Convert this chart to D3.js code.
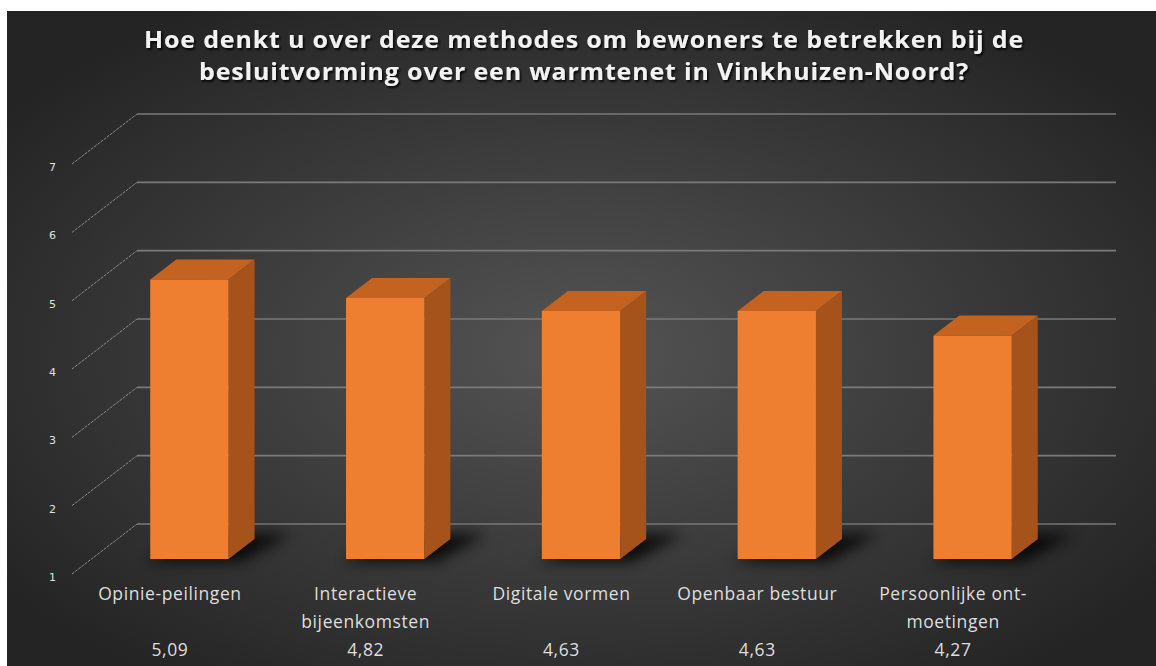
<!DOCTYPE html>
<html>
<head>
<meta charset="utf-8">
<script src="https://cdn.jsdelivr.net/npm/d3@7"></script>
<style>
	body { margin: 0; background: #fff; }
	svg { display: block; }
</style>
</head>
<body>
<div id="chart-area"></div>
<script>
// Data
var titleLines = [
	"Hoe denkt u over deze methodes om bewoners te betrekken bij de",
	"besluitvorming over een warmtenet in Vinkhuizen-Noord?"
];
var categories = [
	["Opinie-peilingen", ""],
	["Interactieve", "bijeenkomsten"],
	["Digitale vormen", ""],
	["Openbaar bestuur", ""],
	["Persoonlijke ont-", "moetingen"]
];
var values = [5.09, 4.82, 4.63, 4.63, 4.27];
var yTicks = [1, 2, 3, 4, 5, 6, 7];

var width = 1156;
var height = 666;

// front plane of the 3d box + offset to the back wall
var plot = { left: 72, right: 1051, bottom: 574, top: 164 };
var depth = { dx: 65, dy: -50 };
var barFront = 0.3, barBack = 0.7;

var formatValue = d3.format(".2f");
function fmt(v) { return formatValue(v).replace(".", ","); }

var svg = d3.select("#chart-area")
	.append("svg")
	.attr("width", width)
	.attr("height", height);

var defs = svg.append("defs");

var bg = defs.append("radialGradient")
	.attr("id", "bg")
	.attr("cx", "50%").attr("cy", "52%").attr("r", "62%");
bg.append("stop").attr("offset", "0%").attr("stop-color", "#545454");
bg.append("stop").attr("offset", "100%").attr("stop-color", "#242424");

defs.append("filter")
	.attr("id", "blur")
	.attr("x", "-50%").attr("y", "-50%").attr("width", "200%").attr("height", "200%")
	.append("feGaussianBlur")
	.attr("stdDeviation", 7);

defs.append("filter")
	.attr("id", "tshadow")
	.append("feDropShadow")
	.attr("dx", 1.5).attr("dy", 2)
	.attr("stdDeviation", 1.2)
	.attr("flood-color", "#000")
	.attr("flood-opacity", 0.9);

svg.append("rect")
	.attr("x", 7)
	.attr("y", 11)
	.attr("width", width - 7)
	.attr("height", height - 11)
	.attr("fill", "url(#bg)");

// Scales
var x = d3.scaleBand()
	.domain(d3.range(values.length))
	.range([plot.left, plot.right])
	.paddingInner(0.6)
	.paddingOuter(0.3);

var y = d3.scaleLinear()
	.domain([1, 7])
	.range([plot.bottom, plot.top]);

// Title
var title = svg.append("g")
	.attr("filter", "url(#tshadow)");
var titleWidths = [880, 770];
titleLines.forEach(function(line, i){
	title.append("text")
		.attr("x", 584)
		.attr("y", 48 + i * 32)
		.attr("text-anchor", "middle")
		.attr("font-family", "'Open Sans', sans-serif")
		.attr("font-weight", "bold")
		.attr("font-size", 23)
		.attr("fill", "#f2f2f2")
		.attr("letter-spacing", 0.8)
		.attr("textLength", titleWidths[i])
		.attr("lengthAdjust", "spacingAndGlyphs")
		.text(line);
});

// Grid: back wall lines and the slanted side lines
var grid = svg.append("g");
grid.selectAll(".back")
	.data(yTicks)
	.enter()
	.append("line")
	.attr("x1", plot.left + depth.dx)
	.attr("x2", plot.right + depth.dx)
	.attr("y1", function(d){ return y(d) + depth.dy; })
	.attr("y2", function(d){ return y(d) + depth.dy; })
	.attr("stroke", "#7a7a7a")
	.attr("stroke-width", 1.6);

grid.selectAll(".side")
	.data(yTicks)
	.enter()
	.append("line")
	.attr("x1", plot.left)
	.attr("y1", function(d){ return y(d); })
	.attr("x2", plot.left + depth.dx)
	.attr("y2", function(d){ return y(d) + depth.dy; })
	.attr("stroke", "#8a8a8a")
	.attr("stroke-width", 1)
	.attr("stroke-dasharray", "3,1");

// Y axis labels
var yAxisCall = d3.axisLeft(y)
	.tickValues(yTicks)
	.tickFormat(d3.format("d"))
	.tickSize(0)
	.tickPadding(0);
var yAxisGroup = svg.append("g")
	.attr("transform", "translate(56, 3)")
	.call(yAxisCall);
yAxisGroup.select(".domain").remove();
yAxisGroup.selectAll("text")
	.attr("fill", "#e0e0e0")
	.attr("font-family", "'DejaVu Sans', sans-serif")
	.attr("font-size", 11);

// Bars
function pt(px, py, f){
	return [px + depth.dx * f, py + depth.dy * f];
}

var bars = svg.append("g");

values.forEach(function(v, i){
	var x0 = x(i), x1 = x(i) + x.bandwidth();
	var yt = y(v), yb = y(1);

	// soft shadow on the floor, behind and right of the bar
	var sh = [
		pt(x0 - 4, yb + 3, barFront),
		pt(x1 + 12, yb + 3, barFront),
		pt(x1 + 30, yb, barBack + 0.1),
		pt(x0 + 20, yb, barBack + 0.1)
	];
	bars.append("polygon")
		.attr("points", sh.join(" "))
		.attr("fill", "#000")
		.attr("opacity", 0.8)
		.attr("filter", "url(#blur)");

	var side = [pt(x1, yt, barFront), pt(x1, yt, barBack), pt(x1, yb, barBack), pt(x1, yb, barFront)];
	var top = [pt(x0, yt, barFront), pt(x1, yt, barFront), pt(x1, yt, barBack), pt(x0, yt, barBack)];
	var f = pt(x0, yt, barFront);

	bars.append("polygon")
		.attr("points", side.join(" "))
		.attr("fill", "#a6521b");
	bars.append("polygon")
		.attr("points", top.join(" "))
		.attr("fill", "#c4621f");
	bars.append("rect")
		.attr("x", f[0])
		.attr("y", f[1])
		.attr("width", x.bandwidth())
		.attr("height", yb - yt)
		.attr("fill", "#ee7f31");
});

// Category labels with the value on the last line
var labels = svg.append("g")
	.attr("font-family", "'Open Sans', sans-serif")
	.attr("font-size", 17.5)
	.attr("fill", "#dedede")
	.attr("text-anchor", "middle")
	.attr("letter-spacing", 0.6);

categories.forEach(function(lines, i){
	var cx = x(i) + x.bandwidth() / 2;
	var rows = lines.concat([fmt(values[i])]);
	rows.forEach(function(row, j){
		labels.append("text")
			.attr("x", cx)
			.attr("y", 600 + j * 28)
			.text(row);
	});
});
</script>
</body>
</html>
